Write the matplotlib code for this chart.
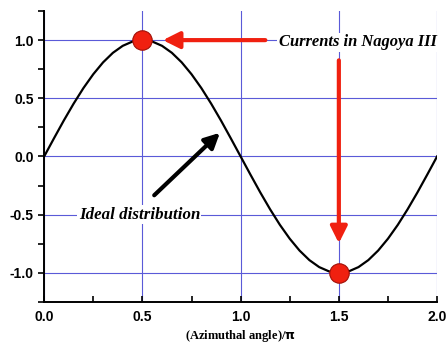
import matplotlib.pyplot as plt
import numpy as np

# azimuthal angle in units of pi, and the ideal current distribution
angle = np.arange(0, 2.01, 0.05)
half = [0.0, 0.156, 0.309, 0.454, 0.588, 0.707, 0.809, 0.891, 0.951, 0.988, 1.0,
        0.988, 0.951, 0.891, 0.809, 0.707, 0.588, 0.454, 0.309, 0.156]
ideal = half + [-v for v in half] + [0.0]

# measured currents (Nagoya III)
cur_x = [0.5, 1.5]
cur_y = [1.0, -1.0]

xticks = [0.0, 0.5, 1.0, 1.5, 2.0]
yticks = [-1.0, -0.5, 0.0, 0.5, 1.0]

fig = plt.figure(figsize=(4.46, 3.45), dpi=100)
ax = fig.add_axes([0.099, 0.125, 0.881, 0.843])

ax.plot(angle, ideal, color="k", linewidth=1.6, zorder=3)
ax.plot(cur_x, cur_y, "o", markersize=14, color="#f02010", markeredgecolor="#a01008",
        markeredgewidth=0.8, zorder=5, clip_on=False)

ax.set_xlim(0, 2.0)
ax.set_ylim(-1.25, 1.25)
ax.set_xticks(xticks)
ax.set_yticks(yticks)
ax.set_xticks(np.arange(0.25, 2.0, 0.5), minor=True)
ax.set_yticks(np.arange(-1.25, 1.26, 0.5), minor=True)
ax.set_xticklabels(["%.1f" % t for t in xticks])
ax.set_yticklabels(["%.1f" % t for t in yticks])
for lab in ax.get_xticklabels() + ax.get_yticklabels():
    lab.set_family("Liberation Sans")
    lab.set_fontweight("bold")
    lab.set_fontsize(10)
ax.tick_params(axis="x", which="both", direction="in", length=4, width=1.2, pad=6)
ax.tick_params(axis="y", which="both", direction="out", length=4, width=1.2)
ax.spines["top"].set_visible(False)
ax.spines["right"].set_visible(False)
ax.spines["left"].set_linewidth(1.4)
ax.spines["bottom"].set_linewidth(1.4)
ax.grid(True, which="major", color="#5a5ad8", linewidth=0.8)
ax.set_axisbelow(True)

ax.set_xlabel("(Azimuthal angle)/$\\mathbf{\\pi}$", family="Liberation Serif",
              fontweight="bold", fontsize=9, labelpad=3)

red = "#f02010"
ax.annotate("", xy=(0.59, 1.0), xytext=(1.14, 1.0),
            arrowprops=dict(arrowstyle="-|>,head_length=1.0,head_width=0.5", color=red, lw=3))
ax.annotate("", xy=(1.5, -0.77), xytext=(1.5, 0.85),
            arrowprops=dict(arrowstyle="-|>,head_length=1.0,head_width=0.5", color=red, lw=3))
ax.annotate("", xy=(0.905, 0.22), xytext=(0.55, -0.35),
            arrowprops=dict(arrowstyle="-|>,head_length=0.9,head_width=0.45", color="k", lw=3))

ax.text(1.595, 0.98, "Currents in Nagoya III", family="Liberation Serif", style="italic",
        fontweight="bold", fontsize=11.9, ha="center", va="center",
        bbox=dict(facecolor="white", edgecolor="none", pad=1), zorder=4)
ax.text(0.485, -0.5, "Ideal distribution", family="Liberation Serif", style="italic",
        fontweight="bold", fontsize=12.2, ha="center", va="center",
        bbox=dict(facecolor="white", edgecolor="none", pad=1), zorder=4)

fig.savefig("out.png", dpi=100)
